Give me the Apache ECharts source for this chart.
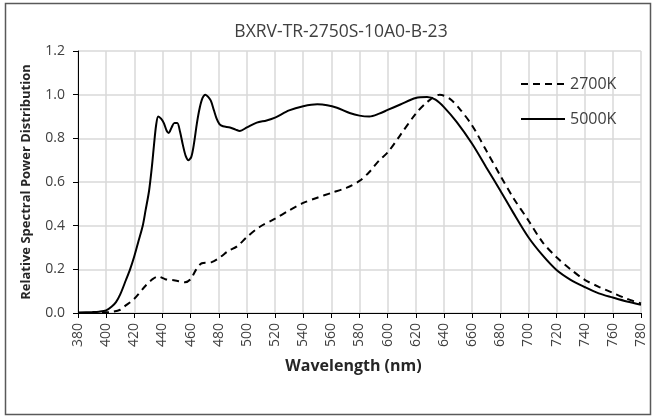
<!DOCTYPE html>
<html>
<head>
<meta charset="utf-8">
<script src="https://cdn.jsdelivr.net/npm/echarts@6/dist/echarts.min.js"></script>
<style>html,body{margin:0;padding:0;background:#fff;}#c{width:654px;height:417px;}</style>
</head>
<body>
<div id="c"></div>
<script>
const chartTitle = 'BXRV-TR-2750S-10A0-B-23';
const seriesNames = ['2700K', '5000K'];
const xTicks = [380, 780, 20];
const yTicks = [0, 1.2, 0.2];

const wl5000 = [380,390,395,400,404,407,410,414,417,420,423,426,428,430.5,432.5,434,435.5,437,439,441,443,444.5,446.5,448.5,450.5,452.5,454.5,456.5,458.5,460.5,462.5,464.5,466.5,468.5,470.5,472.5,474.5,476.5,478.5,480.5,483,488,492,495,500,507,514,520,530,540,550,557,564,573,580,587,594,600,609,620,628,634,640,649,660,670,680,689,700,710,720,730,740,750,760,770,780];
const val5000 = [0.002,0.004,0.006,0.012,0.03,0.05,0.085,0.15,0.2,0.26,0.33,0.40,0.47,0.56,0.67,0.77,0.86,0.90,0.89,0.87,0.835,0.825,0.85,0.87,0.87,0.83,0.77,0.72,0.70,0.715,0.78,0.87,0.94,0.985,1.0,0.99,0.97,0.93,0.89,0.865,0.855,0.85,0.84,0.834,0.85,0.872,0.882,0.895,0.928,0.947,0.956,0.952,0.94,0.916,0.904,0.90,0.913,0.93,0.955,0.985,0.989,0.977,0.943,0.875,0.775,0.668,0.561,0.462,0.347,0.265,0.197,0.152,0.119,0.09,0.071,0.053,0.038];

const wl2700 = [380,395,400,405,410,413,420,428,433,437,442,449,456,460,464,468,475,481,487,493,500,509,520,530,540,550,560,571,580,587,594,600,609,620,628,637,644,651,660,670,680,689,700,710,720,730,740,750,760,770,780];
const val2700 = [0.0,0.001,0.003,0.006,0.015,0.03,0.065,0.125,0.155,0.167,0.155,0.149,0.141,0.155,0.2,0.228,0.233,0.256,0.285,0.305,0.348,0.394,0.432,0.47,0.504,0.528,0.55,0.574,0.605,0.646,0.699,0.735,0.815,0.913,0.966,1.0,0.982,0.936,0.859,0.745,0.63,0.53,0.424,0.325,0.255,0.2,0.152,0.12,0.092,0.065,0.044];

const zip = (a, b) => a.map((x, i) => [x, b[i]]);
const FONT = '"Open Sans", Lato, sans-serif';
const chart = echarts.init(document.getElementById('c'), null, {renderer: 'canvas'});
chart.setOption({
  animation: false,
  backgroundColor: '#fff',
  title: {
    text: chartTitle, left: 336, top: 18, textAlign: 'center',
    textStyle: {fontFamily: FONT, fontSize: 17.5, fontWeight: 'normal', color: '#404040'}
  },
  legend: {
    orient: 'vertical', left: 515, top: 71, itemWidth: 44, itemHeight: 14, itemGap: 19,
    data: seriesNames,
    itemStyle: {opacity: 0},
    textStyle: {fontFamily: FONT, fontSize: 16, color: '#404040'}
  },
  grid: {left: 78, right: 13, top: 51, bottom: 104},
  xAxis: {
    type: 'value', min: xTicks[0], max: xTicks[1], interval: xTicks[2],
    name: 'Wavelength (nm)', nameLocation: 'middle', nameGap: 45,
    nameTextStyle: {fontFamily: FONT, fontSize: 16, fontWeight: 'bold', color: '#262626', padding: [0, 12, 0, 0]},
    axisLine: {lineStyle: {color: '#000', width: 1}},
    axisTick: {show: true, length: 5, lineStyle: {color: '#000'}},
    axisLabel: {rotate: 90, fontFamily: FONT, fontSize: 14, color: '#404040', margin: 10},
    splitLine: {show: true, lineStyle: {color: '#d9d9d9', width: 1.5}}
  },
  yAxis: {
    type: 'value', min: yTicks[0], max: yTicks[1], interval: yTicks[2],
    name: 'Relative Spectral Power Distribution', nameLocation: 'middle', nameGap: 45,
    nameTextStyle: {fontFamily: FONT, fontSize: 13, fontWeight: 'bold', color: '#262626'},
    axisLine: {show: true, lineStyle: {color: '#000', width: 1}},
    axisTick: {show: true, length: 5, lineStyle: {color: '#000'}},
    axisLabel: {fontFamily: FONT, fontSize: 14, color: '#404040', margin: 13, formatter: v => v.toFixed(1)},
    splitLine: {show: true, lineStyle: {color: '#d9d9d9', width: 1.5}}
  },
  series: [
    {name: seriesNames[0], type: 'line', smooth: 0.3, symbol: 'none', showSymbol: false, data: zip(wl2700, val2700),
     lineStyle: {color: '#000', width: 2, type: [7, 5]}, itemStyle: {color: '#000'}},
    {name: seriesNames[1], type: 'line', smooth: 0.3, symbol: 'none', showSymbol: false, data: zip(wl5000, val5000),
     lineStyle: {color: '#000', width: 2}, itemStyle: {color: '#000'}}
  ],
  graphic: [{
    type: 'rect', shape: {x: 5.5, y: 3.5, width: 645, height: 411},
    style: {fill: 'none', stroke: '#595959', lineWidth: 1.5}, silent: true
  }]
});
</script>
</body>
</html>
